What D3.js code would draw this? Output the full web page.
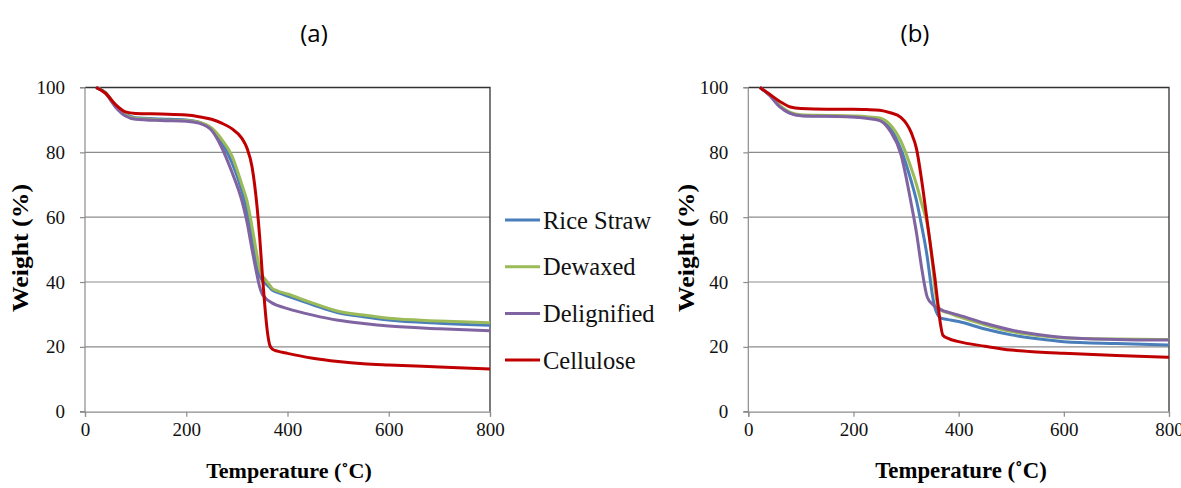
<!DOCTYPE html>
<html>
<head>
<meta charset="utf-8">
<script src="https://cdn.jsdelivr.net/npm/d3@7"></script>
<style>
  body { margin: 0; background: #fff; }
  svg { display: block; }
  .tick text { font-family: "Liberation Serif", serif; }
</style>
</head>
<body>
<svg id="chart" width="1181" height="488"></svg>
<script>
// data
var seriesNames = ["Rice Straw", "Dewaxed", "Delignified", "Cellulose"]
var temps = [22, 40, 60, 80, 100, 150, 200, 225, 250, 270, 290, 310, 320, 330, 340, 345, 350, 355, 360, 365, 370, 380, 400, 450, 500, 550, 600, 700, 800]

// panel (a)
var riceStrawA   = [100, 98.5, 94.5, 91.8, 90.7, 90.3, 90, 89.3, 87, 83, 77, 68, 62, 54, 45, 42, 40.5, 39.8, 39, 38.3, 37.5, 36.8, 35.7, 33, 30.5, 29.3, 28.3, 27.3, 26.7]
var dewaxedA     = [100, 98.5, 94.5, 91.5, 90.5, 90, 89.8, 89.3, 87.5, 84, 79, 70, 65, 57, 48, 44, 42, 41, 40, 39, 38, 37.3, 36.3, 33.5, 31, 29.8, 28.8, 28, 27.4]
var delignifiedA = [100, 98.3, 94, 91.2, 90.2, 89.8, 89.6, 89, 86.8, 81.5, 74, 65, 58.5, 50, 42, 38.5, 36.3, 35.3, 34.5, 34, 33.5, 32.8, 31.8, 29.8, 28.2, 27.2, 26.4, 25.6, 25]
var celluloseA   = [100, 98.3, 94.8, 92.5, 92, 91.8, 91.5, 91, 90.2, 89, 87.3, 84.3, 81.3, 75.5, 63, 54, 43, 33, 25, 20.5, 19.3, 18.7, 18, 16.5, 15.5, 14.8, 14.4, 13.8, 13.2]

// panel (b)
var riceStrawB   = [100, 97.8, 94.2, 92, 91.4, 91.2, 91, 90.7, 90, 87.5, 81, 71, 65, 57, 48, 42, 36, 32, 30, 29, 28.7, 28.4, 27.8, 25.5, 23.7, 22.5, 21.6, 21, 20.6]
var dewaxedB     = [100, 97.8, 94.5, 92.3, 91.6, 91.4, 91.2, 91, 90.6, 88.5, 83.5, 75, 70, 64, 58, 53, 46, 38, 33, 31.5, 31, 30.5, 29.3, 26.8, 24.7, 23.5, 22.7, 22.4, 22.3]
var delignifiedB = [100, 97.6, 94, 92, 91.3, 91.1, 90.9, 90.5, 89.8, 86.5, 79.5, 64, 55, 44, 35.5, 34, 33.2, 32.5, 32, 31.6, 31.2, 30.7, 29.8, 27.3, 25.2, 23.8, 22.9, 22.3, 22.1]
var celluloseB   = [100, 98, 95.7, 94, 93.5, 93.3, 93.3, 93.2, 93, 92.2, 90.8, 86, 81, 71, 59, 53, 47, 41, 34, 27.5, 23.6, 22.6, 21.6, 20.2, 19, 18.4, 18, 17.3, 16.8]

var xTicks = [0, 200, 400, 600, 800]
var yTicks = [0, 20, 40, 60, 80, 100]
var colors = ["#4a7ebb", "#9bbb59", "#8064a2", "#c00000"]

var panels = [
  {title: "(a)", titleX: 314, left: 85, right: 490, top: 87.5, bottom: 411.7,
   yLabelX: 28, xLabelX: 289, xLabelSize: 22, data: [riceStrawA, dewaxedA, delignifiedA, celluloseA], legend: true},
  {title: "(b)", titleX: 915, left: 748.3, right: 1169, top: 87.5, bottom: 411.7,
   yLabelX: 694, xLabelX: 961, xLabelSize: 22.8, data: [riceStrawB, dewaxedB, delignifiedB, celluloseB], legend: false}
]

var svg = d3.select("#chart")

panels.forEach(function(p){
  var x = d3.scaleLinear().domain([0, 800]).range([p.left, p.right])
  var y = d3.scaleLinear().domain([0, 100]).range([p.bottom, p.top])
  var g = svg.append("g")

  // gridlines
  g.selectAll(".grid").data(yTicks.slice(1, -1)).enter()
    .append("line")
    .attr("x1", p.left).attr("x2", p.right)
    .attr("y1", d => y(d)).attr("y2", d => y(d))
    .style("stroke", "#8c8c8c").style("stroke-width", 1.2)

  // plot border (top/right dark)
  g.append("path")
    .attr("d", "M" + p.left + "," + p.top + "H" + p.right + "V" + p.bottom)
    .style("fill", "none").style("stroke", "#333").style("stroke-width", 1.3)

  // axes
  var xAxis = d3.axisBottom(x).tickValues(xTicks).tickSize(5).tickPadding(6)
  var yAxis = d3.axisLeft(y).tickValues(yTicks).tickSize(5).tickPadding(15)
  var gx = g.append("g").attr("transform", "translate(0," + p.bottom + ")").call(xAxis)
  var gy = g.append("g").attr("transform", "translate(" + p.left + ",0)").call(yAxis)
  ;[gx, gy].forEach(function(a){
    a.select(".domain").style("stroke", "#8c8c8c").style("stroke-width", 1.2)
    a.selectAll(".tick line").style("stroke", "#8c8c8c").style("stroke-width", 1.2)
    a.selectAll(".tick text").style("font-size", "19px").style("fill", "#111")
  })
  gy.select(".domain").attr("d", "M-5," + p.top + "H0V" + p.bottom + "H-5")

  // curves
  var line = d3.line()
    .x((d, i) => x(temps[i]))
    .y(d => y(d))
    .curve(d3.curveMonotoneX)
  g.selectAll(".curve").data(p.data).enter()
    .append("path")
    .attr("class", "curve")
    .attr("d", line)
    .style("fill", "none")
    .style("stroke", (d, i) => colors[i])
    .style("stroke-width", 3)
    .style("stroke-linejoin", "round")

  // titles
  g.append("text")
    .attr("x", p.titleX).attr("y", 42)
    .attr("text-anchor", "middle")
    .style("font-family", "'Open Sans', sans-serif").style("font-size", "24px")
    .text(p.title)
  g.append("text")
    .attr("x", p.xLabelX).attr("y", 478)
    .attr("text-anchor", "middle")
    .style("font-family", "'Liberation Serif', serif").style("font-weight", "bold")
    .style("font-size", p.xLabelSize + "px")
    .text("Temperature (˚C)")
  g.append("text")
    .attr("transform", "translate(" + p.yLabelX + ",248) rotate(-90)")
    .attr("text-anchor", "middle")
    .attr("textLength", 128).attr("lengthAdjust", "spacingAndGlyphs")
    .style("font-family", "'Liberation Serif', serif").style("font-weight", "bold")
    .style("font-size", "24px")
    .text("Weight (%)")

  if (p.legend){
    var lg = g.selectAll(".lg").data(seriesNames).enter()
      .append("g")
      .attr("transform", (d, i) => "translate(505," + (220 + i * 46.7) + ")")
    lg.append("line")
      .attr("x1", 0).attr("x2", 35)
      .style("stroke", (d, i) => colors[i]).style("stroke-width", 3)
    lg.append("text")
      .attr("x", 38).attr("dy", "0.35em")
      .style("font-family", "'Liberation Serif', serif").style("font-size", "24.5px")
      .style("fill", "#111")
      .text(d => d)
  }
})
</script>
</body>
</html>
